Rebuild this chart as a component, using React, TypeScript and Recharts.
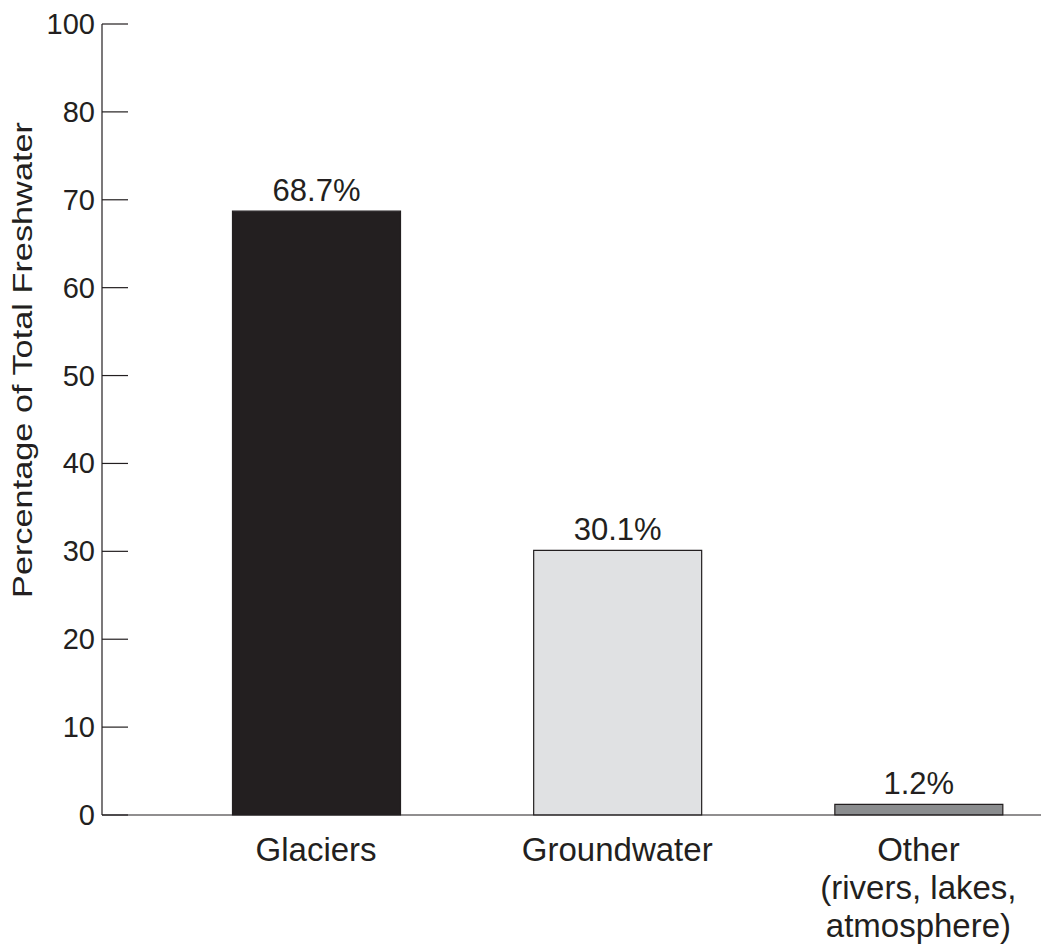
import { BarChart, Bar, XAxis, YAxis, Cell, LabelList } from 'recharts';

const categories = ['Glaciers', 'Groundwater', 'Other\n(rivers, lakes,\natmosphere)'];
const shares = [68.7, 30.1, 1.2];
const yTicks = [0, 10, 20, 30, 40, 50, 60, 70, 80, 90];
const yTickLabels = ['0', '10', '20', '30', '40', '50', '60', '70', '80', '100'];
const yTitle = 'Percentage of Total Freshwater';

const ink = '#231f20';
const barFills = ['#231f20', '#e0e1e3', '#8a8c8e'];

const data = categories.map((category, i) => ({ category, share: shares[i] }));

const YTick = ({ x, y, payload }: any) => {
  const idx = yTicks.indexOf(payload.value);
  return (
    <g>
      <line x1={x} x2={x + 26} y1={y} y2={y} stroke={ink} strokeWidth={1.2} />
      <text x={x - 7} y={y + 10} textAnchor="end" fontSize={29} fill={ink}>
        {yTickLabels[idx]}
      </text>
    </g>
  );
};

const XTick = ({ x, y, payload }: any) => {
  const lines = String(payload.value).split('\n');
  return (
    <text textAnchor="middle" fontSize={33} fill={ink}>
      {lines.map((line, i) => (
        <tspan key={i} x={x} y={y + 46 + i * 38}>
          {line}
        </tspan>
      ))}
    </text>
  );
};

export default function App() {
  return (
    <div
      style={{
        position: 'absolute',
        left: 0,
        top: 0,
        width: 1041,
        height: 946,
        overflow: 'hidden',
        background: '#fff',
        fontFamily: '"Liberation Sans", Arial, Helvetica, sans-serif',
      }}
    >
      <BarChart width={1069} height={946} data={data} margin={{ top: 24, right: 0, bottom: 0, left: 0 }}>
        <XAxis
          dataKey="category"
          interval={0}
          height={131}
          tickSize={0}
          tickMargin={0}
          tickLine={false}
          axisLine={{ stroke: ink, strokeWidth: 1.2 }}
          padding={{ left: 63.5, right: 0 }}
          tick={<XTick />}
        />
        <YAxis
          width={102}
          domain={[0, 90]}
          ticks={yTicks}
          interval={0}
          tickSize={0}
          tickMargin={0}
          tickLine={false}
          axisLine={{ stroke: ink, strokeWidth: 1.2 }}
          tick={<YTick />}
          label={{
            content: () => (
              <text
                transform="translate(32, 360) rotate(-90)"
                textAnchor="middle"
                fontSize={28}
                fill={ink}
                textLength={476}
                lengthAdjust="spacingAndGlyphs"
              >
                {yTitle}
              </text>
            ),
          }}
        />
        <Bar dataKey="share" barSize={168} stroke={ink} strokeWidth={1.2} isAnimationActive={false}>
          {data.map((d, i) => (
            <Cell key={d.category} fill={barFills[i]} />
          ))}
          <LabelList
            dataKey="share"
            position="top"
            offset={10}
            formatter={(v: any) => `${v}%`}
            fontSize={31}
            fill={ink}
          />
        </Bar>
      </BarChart>
    </div>
  );
}
